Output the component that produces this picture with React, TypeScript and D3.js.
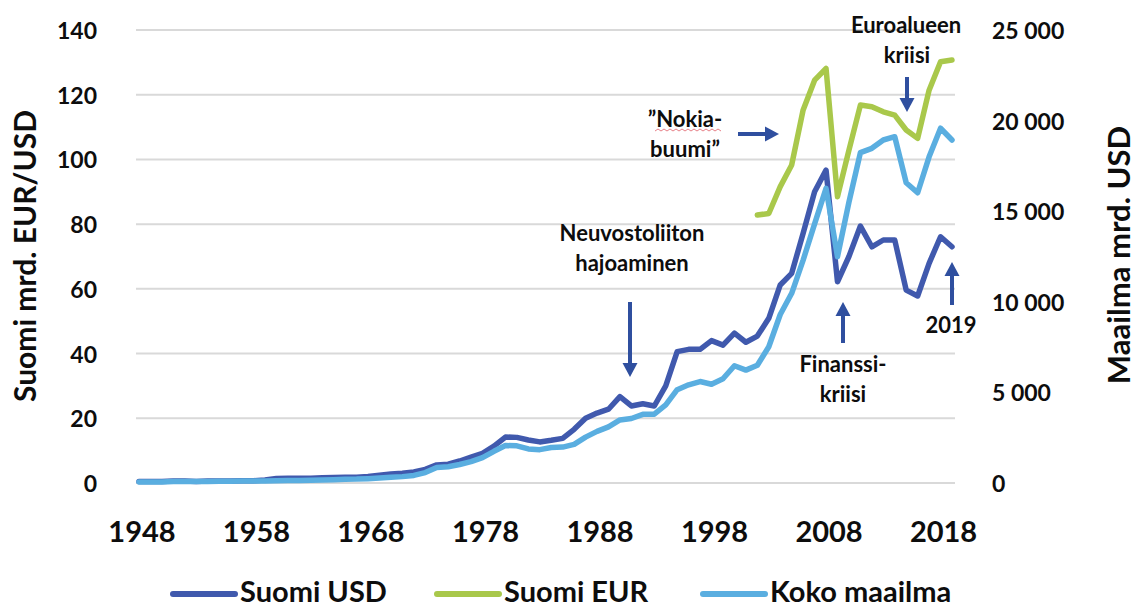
import React from 'react';
import * as d3 from 'd3';

// Vientiluvut vuosittain, alkaen 1948
const firstYear = 1948;
const suomiUsd = [
  0.5, 0.5, 0.5, 0.6, 0.6, 0.5, 0.6, 0.6, 0.6, 0.7,
  0.7, 0.9, 1.4, 1.5, 1.5, 1.5, 1.6, 1.7, 1.8, 1.8,
  2.0, 2.4, 2.8, 3.0, 3.4, 4.2, 5.6, 5.8, 6.8, 8.0,
  9.2, 11.4, 14.2, 14.1, 13.3, 12.7, 13.2, 13.8, 16.6, 20.0,
  21.6, 22.8, 26.7, 23.8, 24.5, 23.8, 30.0, 40.6, 41.3, 41.3,
  44.0, 42.6, 46.3, 43.5, 45.4, 50.9, 61.2, 64.8, 77.2, 90.0,
  96.7, 62.2, 70.0, 79.4, 73.0, 75.1, 75.1, 59.6, 57.8, 67.9,
  76.1, 73.0,
];
const kokoMaailma = [
  58, 58, 62, 80, 78, 80, 84, 92, 102, 110,
  106, 112, 128, 134, 140, 155, 172, 186, 204, 214,
  240, 275, 317, 352, 418, 575, 850, 900, 1020, 1180,
  1400, 1750, 2070, 2050, 1880, 1840, 1960, 1980, 2130, 2530,
  2850, 3100, 3480, 3560, 3790, 3800, 4310, 5150, 5420, 5600,
  5450, 5750, 6470, 6230, 6500, 7520, 9300, 10470, 12300, 14300,
  16260, 12490, 15500, 18230, 18470, 18930, 19110, 16570, 16020, 18000,
  19580, 18930,
];
// EUR-sarja alkaa 2002
const eurFirstYear = 2002;
const suomiEur = [
  82.8, 83.3, 91.6, 98.3, 115.3, 124.5, 128.1, 88.5, 102.9, 116.8,
  116.3, 114.7, 113.7, 109.1, 106.5, 121.4, 130.2, 130.7,
];

const yearTicks = [1948, 1958, 1968, 1978, 1988, 1998, 2008, 2018];
const leftTicks = [0, 20, 40, 60, 80, 100, 120, 140];
const rightTicks = [0, 5000, 10000, 15000, 20000, 25000];
const seriesNames = ['Suomi USD', 'Suomi EUR', 'Koko maailma'];

const W = 1137;
const H = 608;
const FONT = 'Lato, "Open Sans", sans-serif';
const C_USD = '#4059ad';
const C_EUR = '#a9c84b';
const C_WORLD = '#5aaee0';
const C_ARROW = '#2f4f9f';

type Pt = { year: number; v: number };

const toPts = (start: number, vals: number[]): Pt[] =>
  vals.map((v, i) => ({ year: start + i, v }));

const Arrow: React.FC<{ x1: number; y1: number; x2: number; y2: number }> = ({ x1, y1, x2, y2 }) => {
  // varsi + kärki, kärki pisteessä (x2,y2)
  const ang = Math.atan2(y2 - y1, x2 - x1);
  const head = 14;
  const half = 7.5;
  const bx = x2 - head * Math.cos(ang);
  const by = y2 - head * Math.sin(ang);
  const px = -Math.sin(ang) * half;
  const py = Math.cos(ang) * half;
  return (
    <g>
      <line x1={x1} y1={y1} x2={bx} y2={by} stroke={C_ARROW} strokeWidth={4} />
      <polygon points={`${x2},${y2} ${bx + px},${by + py} ${bx - px},${by - py}`} fill={C_ARROW} />
    </g>
  );
};

const App: React.FC = () => {
  const x = d3.scaleLinear().domain([1948, 2019]).range([139, 952]);
  const yL = d3.scaleLinear().domain([0, 140]).range([483, 30]);
  const yR = d3.scaleLinear().domain([0, 25000]).range([483, 30]);

  const lineL = d3.line<Pt>().x(d => x(d.year)).y(d => yL(d.v));
  const lineR = d3.line<Pt>().x(d => x(d.year)).y(d => yR(d.v));

  const usdPath = lineL(toPts(firstYear, suomiUsd)) || '';
  const eurPath = lineL(toPts(eurFirstYear, suomiEur)) || '';
  const worldPath = lineR(toPts(firstYear, kokoMaailma)) || '';

  const fmt = (v: number) => d3.format(',')(v).replace(/,/g, ' ');

  const legendX = [173, 437, 703];
  const legendColors = [C_USD, C_EUR, C_WORLD];

  const txt = { fontFamily: FONT, fontWeight: 700, fill: '#0d0d0d' } as const;

  return (
    <svg width={W} height={H} style={{ position: 'absolute', left: 0, top: 0, background: '#fff' }}>
      {/* ruudukko */}
      {leftTicks.map(t => (
        <line key={t} x1={136} x2={955} y1={yL(t)} y2={yL(t)} stroke="#d9d9d9" strokeWidth={2} />
      ))}

      {/* vasen akseli */}
      {leftTicks.map(t => (
        <text key={t} x={97} y={yL(t)} textAnchor="end" dominantBaseline="central" fontSize={23} {...txt}>
          {t}
        </text>
      ))}
      <text
        transform={`translate(24,256) rotate(-90)`}
        textAnchor="middle"
        dominantBaseline="central"
        fontSize={30}
        {...txt}
      >
        Suomi mrd. EUR/USD
      </text>

      {/* oikea akseli */}
      {rightTicks.map(t => (
        <text key={t} x={992} y={yR(t)} textAnchor="start" dominantBaseline="central" fontSize={23} {...txt}>
          {fmt(t)}
        </text>
      ))}
      <text
        transform={`translate(1118,255) rotate(-90)`}
        textAnchor="middle"
        dominantBaseline="central"
        fontSize={31}
        {...txt}
      >
        Maailma mrd. USD
      </text>

      {/* vuodet */}
      {yearTicks.map(t => (
        <text key={t} x={x(t) + 3} y={530} textAnchor="middle" dominantBaseline="central" fontSize={29} {...txt}>
          {t}
        </text>
      ))}

      {/* sarjat */}
      <path d={usdPath} fill="none" stroke={C_USD} strokeWidth={5.5} strokeLinejoin="round" strokeLinecap="round" />
      <path d={eurPath} fill="none" stroke={C_EUR} strokeWidth={5.5} strokeLinejoin="round" strokeLinecap="round" />
      <path d={worldPath} fill="none" stroke={C_WORLD} strokeWidth={5.5} strokeLinejoin="round" strokeLinecap="round" />

      {/* huomautukset */}
      <text x={632} y={241} textAnchor="middle" fontSize={22} {...txt}>Neuvostoliiton</text>
      <text x={632} y={271} textAnchor="middle" fontSize={22} {...txt}>hajoaminen</text>
      <Arrow x1={630} y1={302} x2={630} y2={377} />

      <text x={685} y={127} textAnchor="middle" fontSize={22} {...txt}>”Nokia-</text>
      <path d="M655,131 l3,-2 l3,2 l3,-2 l3,2 l3,-2 l3,2 l3,-2 l3,2 l3,-2 l3,2 l3,-2 l3,2 l3,-2 l3,2 l3,-2 l3,2 l3,-2 l3,2 l3,-2 l3,2 l3,-2 l3,2"
        fill="none" stroke="#e0606a" strokeWidth={0.8} />
      <text x={685} y={157} textAnchor="middle" fontSize={22} {...txt}>buumi”</text>
      <Arrow x1={738} y1={134} x2={779} y2={134} />

      <text x={906} y={33} textAnchor="middle" fontSize={22} {...txt}>Euroalueen</text>
      <text x={907} y={63} textAnchor="middle" fontSize={22} {...txt}>kriisi</text>
      <Arrow x1={907} y1={77} x2={907} y2={112} />

      <text x={843} y={372} textAnchor="middle" fontSize={22} {...txt}>Finanssi-</text>
      <text x={843} y={402} textAnchor="middle" fontSize={22} {...txt}>kriisi</text>
      <Arrow x1={843} y1={343} x2={843} y2={302} />

      <text x={951} y={333} textAnchor="middle" fontSize={22} {...txt}>2019</text>
      <Arrow x1={952} y1={305} x2={952} y2={262} />

      {/* selite */}
      {seriesNames.map((name, i) => (
        <g key={name}>
          <line x1={legendX[i]} x2={legendX[i] + 62} y1={594} y2={594} stroke={legendColors[i]} strokeWidth={6} strokeLinecap="round" />
          <text x={legendX[i] + 67} y={602} fontSize={29} {...txt}>
            {name}
          </text>
        </g>
      ))}
    </svg>
  );
};

export default App;
